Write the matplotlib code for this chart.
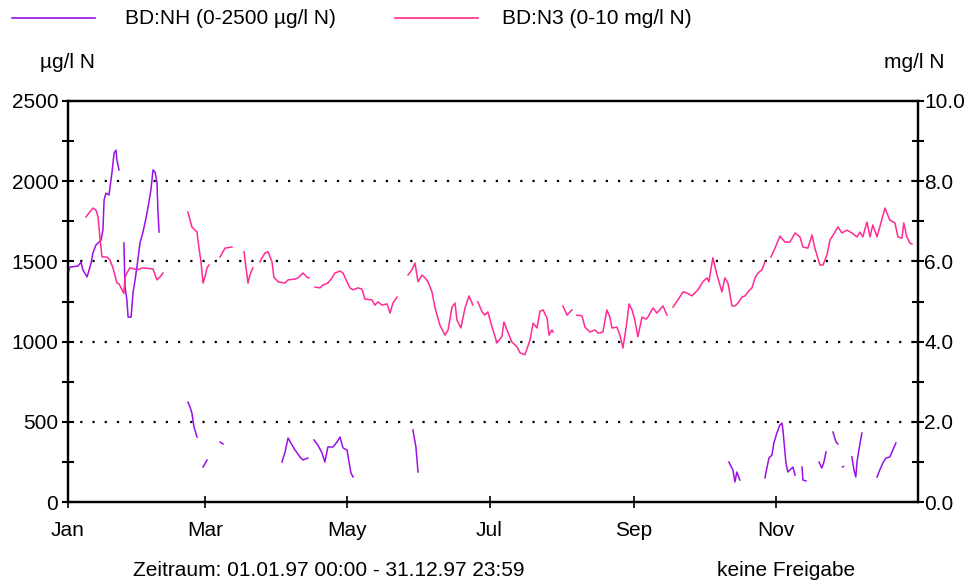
import numpy as np
import matplotlib
matplotlib.use("Agg")
import matplotlib.pyplot as plt
from matplotlib.lines import Line2D
from matplotlib.ticker import MultipleLocator, FormatStrFormatter

plt.rcParams['font.family'] = ['Liberation Sans', 'DejaVu Sans']

# day of year 1997 (0 = 1 Jan), None = no measurement
nh_day = [0, 0.9, 4.3, 5.6, 6.4, 8.2, 9.9, 10.7, 12.0, 12.9, 14.2, 15.0, 15.5, 16.3, 17.6, 18.9, 19.8, 20.6, 21.0, 21.9, None,
          24.0, 24.5, 25.3, 25.8, 27.1, 27.9, 28.8, 29.6, 30.9, 32.2, 33.5, 34.3, 35.6, 36.5, 37.4, 38.2, 38.6, 39.1, None,
          51.5, 52.4, 53.2, 54.1, 55.4, None,
          58.0, 59.7, None,
          65.3, 66.6, None,
          91.9, 93.2, 94.5, 96.2, 97.5, 99.6, 100.9, 103.0, None,
          105.6, 107.3, 109.1, 110.3, 111.6, 113.8, 115.5, 116.8, 118.1, 119.8, 120.7, 121.5, 122.4, None,
          148.1, 149.4, 150.3, None,
          283.8, 285.5, 286.4, 287.2, 288.5, None,
          299.3, 300.1, 301.0, 302.3, 303.1, 304.4, 305.7, 306.6, 307.0, 308.3, 309.1, 310.9, 311.3, 312.2, None,
          315.2, 315.6, 316.9, None,
          322.5, 323.7, 324.6, 325.5, None,
          328.5, 329.8, 330.6, None,
          332.6, 333.0, None,
          336.6, 337.5, 338.3, 338.8, 339.6, 340.9, None,
          347.4, 348.6, 349.9, 351.2, 352.9, 354.2, 355.5]
# BD:NH in µg/l N
nh_val = [1428, 1465, 1471, 1496, 1446, 1403, 1490, 1552, 1602, 1615, 1633, 1696, 1883, 1926, 1914, 2057, 2176, 2194, 2132, 2070, None,
          1615, 1340, 1259, 1153, 1153, 1303, 1384, 1465, 1615, 1683, 1770, 1833, 1945, 2070, 2057, 1995, 1820, 1683, None,
          623, 592, 555, 468, 405, None,
          218, 262, None,
          374, 362, None,
          249, 312, 399, 355, 324, 281, 262, 274, None,
          387, 355, 305, 249, 343, 343, 374, 405, 337, 324, 249, 181, 156, None,
          449, 343, 187, None,
          249, 200, 125, 187, 137, None,
          150, 212, 274, 293, 368, 430, 480, 492, 449, 243, 187, 212, 218, 168, None,
          218, 137, 131, None,
          249, 212, 249, 312, None,
          436, 374, 362, None,
          218, 222, None,
          281, 200, 156, 249, 324, 430, None,
          156, 200, 243, 274, 281, 324, 368]

n3_day = [7.7, 10.7, 12.0, 12.9, 13.7, 14.6, 16.7, 18.0, 19.3, 21.0, 21.9, 24.0, 24.5, 25.3, 26.6, 29.6, 32.2, 36.5, 38.2, 39.5, 40.8, None,
          51.5, 53.2, 55.4, 55.8, 57.1, 58.0, 58.8, 59.7, 60.5, None,
          65.3, 67.4, 70.4, None,
          75.6, 76.4, 77.3, 78.1, 79.4, None,
          82.4, 83.3, 84.6, 85.9, 87.6, 88.4, 90.2, 93.2, 94.5, 97.5, 98.8, 100.9, 102.6, 103.5, None,
          106.1, 108.2, 109.5, 111.6, 113.4, 114.6, 116.8, 118.1, 119.8, 121.1, 122.4, 124.5, 126.2, 127.5, 130.5, 131.8,
          133.1, 134.8, 137.0, 138.3, 139.5, 141.3, None,
          146.0, 147.7, 149.0, 150.3, 152.0, 153.3, 154.6, 156.3, 157.6, 159.7, 161.9, 163.2, 164.9, 166.2, 167.0, 168.7,
          170.5, 172.2, 173.9, None,
          176.0, 177.8, 179.0, 180.3, 182.1, 184.2, 186.3, 187.2, 188.5, 190.6, 192.8, 194.1, 196.2, 198.4, 199.7, 201.4,
          202.7, 204.0, 205.7, 206.6, 207.8, 208.3, None,
          212.5, 214.3, 216.4, None,
          218.5, 220.7, 222.0, 224.1, 226.3, 227.6, 229.7, 231.4, 232.7, 233.6, 235.7, 237.0, 238.3, 240.0, 240.9, 242.2,
          243.4, 244.7, 246.5, 248.2, 249.0, 251.2, 252.9, 255.5, 257.2, None,
          259.8, 261.9, 264.1, 265.8, 267.9, 270.5, 272.6, 274.4, 275.2, 276.9, 278.7, 280.8, 282.1, 283.4, 285.1, 286.4,
          287.7, 289.4, 290.7, 292.0, 293.7, 295.0, 296.3, 298.0, 299.3, None,
          301.8, 303.6, 305.7, 307.9, 310.0, 312.2, 314.3, 315.6, 317.7, 319.5, 320.7, 322.9, 324.2, 325.9, 327.2, 329.3,
          330.6, 332.3, 334.5, 336.6, 338.8, 340.1, 341.3, 343.1, 344.4, 345.6, 347.4, 348.6, 350.8, 352.9, 355.1, 356.4,
          358.1, 358.9, 360.2, 361.5, 362.4]
# BD:N3 in mg/l N
n3_val = [7.11, 7.33, 7.28, 7.11, 6.61, 6.11, 6.11, 6.04, 5.84, 5.46, 5.44, 5.20, 5.60, 5.71, 5.84, 5.79, 5.84, 5.81, 5.54, 5.61, 5.71, None,
          7.23, 6.86, 6.73, 6.53, 5.99, 5.46, 5.61, 5.84, 5.91, None,
          6.11, 6.33, 6.36, None,
          6.24, 5.86, 5.46, 5.66, 5.84, None,
          5.99, 6.09, 6.21, 6.24, 5.99, 5.61, 5.49, 5.46, 5.54, 5.56, 5.59, 5.71, 5.61, 5.59, None,
          5.36, 5.34, 5.41, 5.46, 5.59, 5.71, 5.76, 5.71, 5.49, 5.34, 5.29, 5.34, 5.31, 5.06, 5.04, 4.91,
          4.99, 4.91, 4.94, 4.71, 4.96, 5.11, None,
          5.66, 5.79, 5.96, 5.49, 5.66, 5.59, 5.49, 5.24, 4.84, 4.41, 4.16, 4.29, 4.86, 4.96, 4.54, 4.34,
          4.84, 5.14, 4.91, None,
          4.99, 4.74, 4.66, 4.74, 4.36, 3.97, 4.12, 4.49, 4.29, 3.99, 3.87, 3.72, 3.67, 4.04, 4.46, 4.34,
          4.76, 4.79, 4.59, 4.16, 4.29, 4.24, None,
          4.89, 4.66, 4.79, None,
          4.66, 4.64, 4.36, 4.24, 4.29, 4.21, 4.24, 4.79, 4.61, 4.34, 4.36, 4.16, 3.84, 4.49, 4.94, 4.79,
          4.54, 4.12, 4.61, 4.56, 4.61, 4.84, 4.71, 4.89, 4.66, None,
          4.86, 5.04, 5.24, 5.21, 5.14, 5.29, 5.49, 5.59, 5.49, 6.09, 5.66, 5.24, 5.59, 5.46, 4.89, 4.89,
          4.96, 5.11, 5.14, 5.24, 5.34, 5.59, 5.71, 5.79, 5.99, None,
          6.11, 6.33, 6.63, 6.48, 6.48, 6.71, 6.61, 6.36, 6.33, 6.66, 6.33, 5.91, 5.91, 6.16, 6.53, 6.73,
          6.86, 6.71, 6.78, 6.71, 6.61, 6.73, 6.61, 6.98, 6.61, 6.91, 6.61, 6.86, 7.33, 7.03, 6.96, 6.61,
          6.58, 6.96, 6.61, 6.46, 6.43]

month_ticks = [0, 59, 120, 181, 243, 304]
month_labels = ["Jan", "Mar", "May", "Jul", "Sep", "Nov"]

NH_COLOR = "#9a10e6"
N3_COLOR = "#ff2a95"
FS = 15


def to_arr(vals):
    return np.array([np.nan if v is None else v for v in vals], dtype=float)


W, H = 970, 588
fig = plt.figure(figsize=(W / 100, H / 100), dpi=100)
ax = fig.add_axes([68 / W, 1 - 502 / H, 850 / W, 401 / H])
ax2 = ax.twinx()

ax.plot(to_arr(nh_day), to_arr(nh_val), color=NH_COLOR, lw=1.1, zorder=3)
ax2.plot(to_arr(n3_day), to_arr(n3_val), color=N3_COLOR, lw=1.1, zorder=3)

ax.set_xlim(0, 365)
ax.set_ylim(0, 2500)
ax2.set_ylim(0, 10)

for yv in range(500, 2500, 500):
    ax.axhline(yv, color="black", lw=1.6, ls=(0, (1, 4.5)), zorder=1)

ax.set_xticks(month_ticks)
ax.set_xticklabels(month_labels)
ax.yaxis.set_major_locator(MultipleLocator(500))
ax.yaxis.set_minor_locator(MultipleLocator(250))
ax2.yaxis.set_major_locator(MultipleLocator(2))
ax2.yaxis.set_minor_locator(MultipleLocator(1))
ax2.yaxis.set_major_formatter(FormatStrFormatter("%.1f"))

ax.tick_params(axis="y", which="both", direction="inout", length=8, width=1.5, labelsize=FS, pad=3)
ax.tick_params(axis="x", which="both", direction="inout", length=8, width=1.2, labelsize=FS, pad=10)
ax2.tick_params(axis="y", which="both", direction="inout", length=8, width=1.5, labelsize=FS, pad=0.5)

for a in (ax, ax2):
    for s in a.spines.values():
        s.set_linewidth(1.6)

# legend and unit labels as in the original printout
fig.add_artist(Line2D([12 / W, 95 / W], [1 - 18 / H, 1 - 18 / H], color=NH_COLOR, lw=1.2))
fig.text(125 / W, 1 - 18 / H, "BD:NH (0-2500 µg/l N)", fontsize=FS, va="center")
fig.add_artist(Line2D([395 / W, 478 / W], [1 - 18 / H, 1 - 18 / H], color=N3_COLOR, lw=1.2))
fig.text(502 / W, 1 - 18 / H, "BD:N3 (0-10 mg/l N)", fontsize=FS, va="center")
fig.text(40 / W, 1 - 62 / H, "µg/l N", fontsize=FS, va="center")
fig.text(945 / W, 1 - 62 / H, "mg/l N", fontsize=FS, va="center", ha="right")

fig.text(133 / W, 1 - 571 / H, "Zeitraum: 01.01.97 00:00 - 31.12.97 23:59", fontsize=FS, va="center")
fig.text(717 / W, 1 - 571 / H, "keine Freigabe", fontsize=FS, va="center")

fig.savefig("out.png", dpi=100)
